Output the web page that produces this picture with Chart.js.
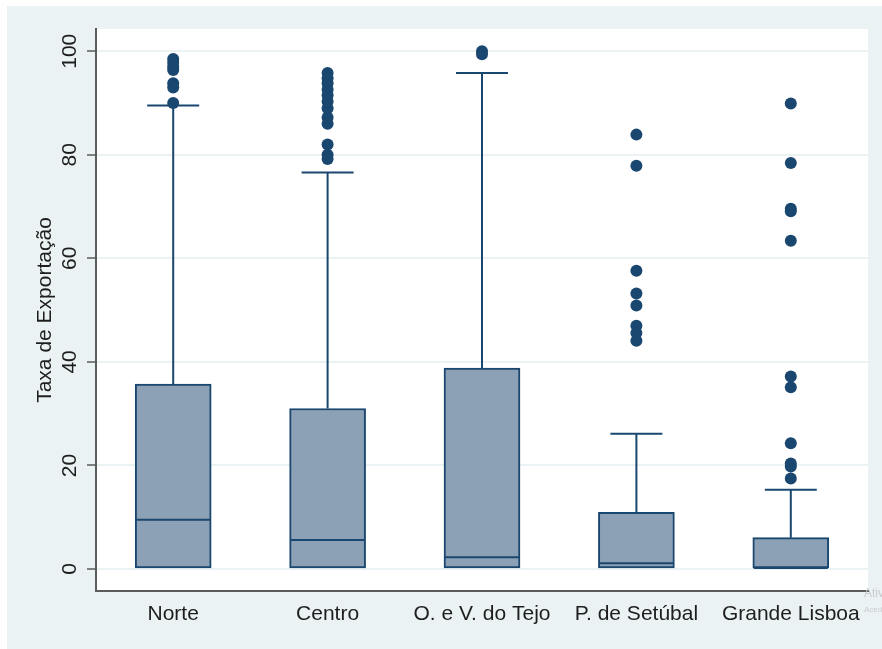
<!DOCTYPE html>
<html lang="pt">
<head>
    <meta charset="UTF-8">
    <title>Taxa de Exportação por região</title>
    <style>
        html, body { margin: 0; padding: 0; background: #ffffff; }
        #wrap { position: absolute; left: 7px; top: 6px; width: 875px; height: 643px; }
    </style>
    <script src="https://cdn.jsdelivr.net/npm/chart.js"></script>
</head>
<body>
    <div id="wrap"><canvas id="boxChart"></canvas></div>
    <script>
        // Data
        const regions = ['Norte', 'Centro', 'O. e V. do Tejo', 'P. de Setúbal', 'Grande Lisboa'];
        const q1 = [0, 0, 0, 0, 0];
        const medians = [9.5, 5.6, 2.25, 1.1, 0.2];
        const q3 = [35.7, 31.0, 38.8, 10.95, 6.05];
        const upperWhisker = [89.5, 76.6, 95.8, 26.1, 15.3];
        const outliers = [
            [98.5, 97.8, 97.0, 96.4, 93.8, 93.0, 90.0],
            [95.8, 94.8, 93.8, 92.6, 91.5, 90.3, 89.0, 87.2, 86.0, 82.0, 80.0, 79.2],
            [100.0, 99.4],
            [83.9, 77.9, 57.6, 53.2, 50.9, 47.0, 45.6, 44.1],
            [89.9, 78.4, 69.6, 69.1, 63.4, 37.2, 35.1, 24.3, 20.4, 19.8, 17.5]
        ];
        const yTicks = [0, 20, 40, 60, 80, 100];

        const navy = '#1a476f';
        const boxFill = '#8ca1b5';
        const fontFamily = "'Liberation Sans', Arial, sans-serif";

        // Build datasets
        const boxData = regions.map((_, i) => ({ x: i, y: [q1[i], q3[i]] }));
        const medianData = regions.map((_, i) => ({ x: i, y: medians[i] }));
        const capData = regions.map((_, i) => ({ x: i, y: upperWhisker[i] }));
        const whiskerData = [];
        regions.forEach((_, i) => {
            whiskerData.push({ x: i, y: q3[i] }, { x: i, y: upperWhisker[i] }, { x: i, y: null });
        });
        const outlierData = [];
        outliers.forEach((vals, i) => vals.forEach(v => outlierData.push({ x: i, y: v })));

        // keep the plot region where the reference has it
        function noPad(s) {
            s.paddingLeft = 0;
            s.paddingRight = 0;
            s.paddingTop = 0;
            s.paddingBottom = 0;
        }

        // Background, white plot region, rotated y labels and title
        const framePlugin = {
            id: 'frame',
            beforeDraw(chart) {
                const { ctx, chartArea: a } = chart;
                ctx.save();
                ctx.fillStyle = '#eaf2f3';
                ctx.fillRect(0, 0, chart.width, chart.height);
                ctx.fillStyle = '#ffffff';
                ctx.fillRect(a.left, a.top, a.right - a.left, a.bottom - a.top);
                ctx.restore();
            },
            afterDraw(chart) {
                const { ctx, chartArea: a } = chart;
                const yScale = chart.scales.y;
                ctx.save();
                ctx.fillStyle = '#1e1e1e';
                ctx.font = '21px ' + fontFamily;
                ctx.textAlign = 'center';
                ctx.textBaseline = 'middle';
                yTicks.forEach(v => {
                    const y = yScale.getPixelForValue(v);
                    ctx.save();
                    ctx.translate(63, y);
                    ctx.rotate(-Math.PI / 2);
                    ctx.fillText(String(v), 0, 0);
                    ctx.restore();
                });
                ctx.translate(38, (a.top + a.bottom) / 2);
                ctx.rotate(-Math.PI / 2);
                ctx.fillText('Taxa de Exportação', 0, 0);
                ctx.restore();

                // faint watermark at the right edge
                ctx.save();
                ctx.fillStyle = '#c9cdd0';
                ctx.textAlign = 'left';
                ctx.textBaseline = 'middle';
                ctx.font = '12px ' + fontFamily;
                ctx.fillText('Ativar o Windows', 857, 588);
                ctx.font = '8px ' + fontFamily;
                ctx.fillText('Aceda às Definições', 857, 604);
                ctx.restore();
            }
        };

        const ctx = document.getElementById('boxChart').getContext('2d');
        new Chart(ctx, {
            type: 'bar',
            data: {
                datasets: [
                    {
                        type: 'scatter',
                        label: 'outliers',
                        data: outlierData,
                        pointRadius: 6,
                        pointBackgroundColor: navy,
                        pointBorderWidth: 0,
                        order: 0
                    },
                    {
                        type: 'scatter',
                        label: 'caps',
                        data: capData,
                        pointStyle: 'line',
                        pointRadius: 26,
                        pointBorderColor: navy,
                        pointBorderWidth: 2,
                        order: 1
                    },
                    {
                        type: 'scatter',
                        label: 'medians',
                        data: medianData,
                        pointStyle: 'line',
                        pointRadius: 37,
                        pointBorderColor: navy,
                        pointBorderWidth: 2,
                        order: 2
                    },
                    {
                        type: 'line',
                        label: 'whiskers',
                        data: whiskerData,
                        borderColor: navy,
                        borderWidth: 2,
                        pointRadius: 0,
                        spanGaps: false,
                        fill: false,
                        order: 3
                    },
                    {
                        type: 'bar',
                        label: 'boxes',
                        data: boxData,
                        backgroundColor: boxFill,
                        borderColor: navy,
                        borderWidth: 2,
                        borderSkipped: false,
                        barThickness: 76,
                        order: 4
                    }
                ]
            },
            options: {
                responsive: true,
                maintainAspectRatio: false,
                animation: false,
                layout: {
                    autoPadding: false,
                    padding: { top: 23, right: 14, left: 0, bottom: 0 }
                },
                plugins: {
                    legend: { display: false },
                    tooltip: { enabled: false }
                },
                scales: {
                    x: {
                        type: 'linear',
                        min: -0.5,
                        max: 4.5,
                        offset: false,
                        afterBuildTicks: s => { s.ticks = regions.map((_, i) => ({ value: i })); },
                        afterFit: s => { s.height = 58; noPad(s); },
                        grid: { display: false, drawTicks: false },
                        border: { display: true, color: '#5b5b5b', width: 2 },
                        ticks: {
                            autoSkip: false,
                            maxRotation: 0,
                            minRotation: 0,
                            padding: 11,
                            color: '#1e1e1e',
                            font: { size: 21, family: fontFamily },
                            callback: v => regions[v]
                        }
                    },
                    y: {
                        type: 'linear',
                        min: -4.25,
                        max: 104.3,
                        afterBuildTicks: s => { s.ticks = yTicks.map(v => ({ value: v })); },
                        afterFit: s => { s.width = 89; noPad(s); },
                        grid: {
                            color: '#eaf2f3',
                            lineWidth: 2,
                            tickColor: '#5b5b5b',
                            tickWidth: 1.5,
                            tickLength: 9
                        },
                        border: { display: true, color: '#5b5b5b', width: 2 },
                        ticks: { display: false }
                    }
                }
            },
            plugins: [framePlugin]
        });
    </script>
</body>
</html>
